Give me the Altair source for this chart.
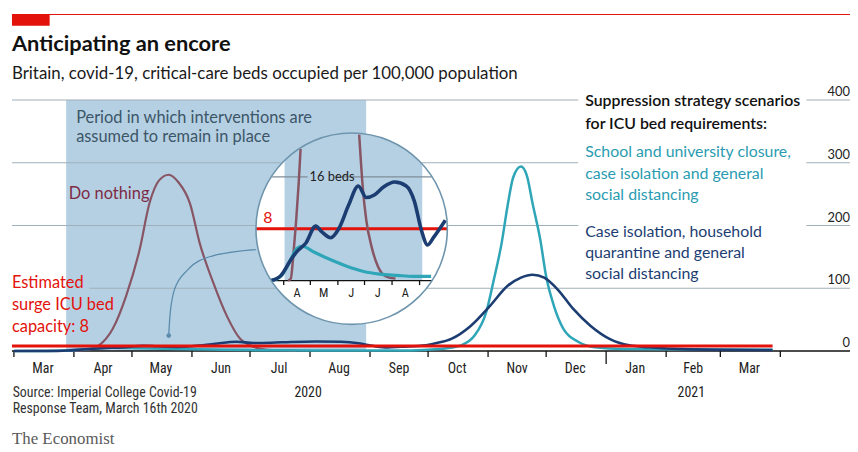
import math
from datetime import datetime, timedelta, timezone

import altair as alt
import pandas as pd

# ------------------------------------------------------------------
# Values (critical-care beds per 100,000)
# ------------------------------------------------------------------
DN_DATES = ["2020-03-01", "2020-04-01", "2020-04-08", "2020-04-14", "2020-04-21",
            "2020-04-28", "2020-05-05", "2020-05-10", "2020-05-15", "2020-05-20",
            "2020-05-25", "2020-05-31", "2020-06-05", "2020-06-12", "2020-06-19",
            "2020-06-26", "2020-07-01", "2020-07-10", "2020-07-25"]
DN_VALUES = [0, 0.5, 2, 9, 35, 88, 162, 235, 272, 281, 269, 235, 172, 109, 56,
             19, 9, 2, 0.5]

NAVY_DATES = ["2020-03-01", "2020-03-18", "2020-03-29", "2020-04-09", "2020-04-16",
              "2020-04-26", "2020-05-07", "2020-05-14", "2020-05-24", "2020-06-02",
              "2020-06-13", "2020-06-24", "2020-07-03", "2020-07-12", "2020-07-22",
              "2020-08-04", "2020-08-17", "2020-08-26", "2020-09-03", "2020-09-10",
              "2020-09-17", "2020-09-30", "2020-10-06", "2020-10-13", "2020-10-23",
              "2020-11-02", "2020-11-11", "2020-11-18", "2020-11-24", "2020-11-30",
              "2020-12-07", "2020-12-15", "2020-12-24", "2021-01-03", "2021-01-13",
              "2021-01-23", "2021-02-10", "2021-03-28"]
NAVY_VALUES = [0, 0, 0.8, 3.2, 4.5, 5.8, 8.4, 7.5, 6.6, 8.0,
               11.6, 14.6, 12.8, 13.2, 14.4, 15.2, 14.6, 12.3, 7.8, 5.5,
               6.7, 9.3, 13, 19.4, 40, 72, 103.6, 117, 121.6, 117,
               98, 67, 40, 19, 9, 6, 3, 1.5]

TEAL_DATES = ["2020-03-01", "2020-03-18", "2020-03-29", "2020-04-07", "2020-04-16",
              "2020-04-22", "2020-05-05", "2020-05-24", "2020-06-11", "2020-06-30",
              "2020-07-18", "2020-08-07", "2020-08-25", "2020-09-14", "2020-10-01",
              "2020-10-10", "2020-10-18", "2020-10-25", "2020-10-31", "2020-11-04",
              "2020-11-08", "2020-11-11", "2020-11-14", "2020-11-18", "2020-11-21",
              "2020-11-24", "2020-11-28", "2020-12-01", "2020-12-05", "2020-12-10",
              "2020-12-18", "2020-12-26", "2021-01-10", "2021-03-28"]
TEAL_VALUES = [0, 0, 0.7, 2.7, 5.0, 5.3, 4.4, 3.2, 2.2, 1.4,
               1.0, 0.8, 0.65, 0.65, 2, 4, 9, 24.6, 61.6, 114,
               172, 230, 277, 294, 280, 235, 177, 119, 72, 35,
               14, 6, 3, 2]

# "Do nothing" as drawn inside the magnifier (two visible pieces)
INSET_DN_RISE_DATES = ["2020-04-06", "2020-04-09", "2020-04-12", "2020-04-15",
                       "2020-04-18", "2020-04-20"]
INSET_DN_RISE_VALUES = [0, 0.3, 4.2, 9.2, 15.3, 20.3]
INSET_DN_FALL_DATES = ["2020-06-25", "2020-06-29", "2020-07-03", "2020-07-09",
                       "2020-07-16", "2020-07-25", "2020-08-05"]
INSET_DN_FALL_VALUES = [22.5, 14.4, 9.3, 5.2, 2.2, 0.65, 0.3]
INSET_WINDOW = ["2020-03-18", "2020-09-30"]

CAPACITY = 8
CAPACITY_SPAN = ["2020-02-29", "2021-03-28"]
PERIOD_MAIN = ["2020-03-28", "2020-08-30"]
PERIOD_INSET = ["2020-04-02", "2020-09-04"]

GRID_VALUES = [100, 200, 300, 400]
GRID_STARTS = ["2020-04-09", "2020-02-29", "2020-02-29", "2020-02-29"]
Y_LABELS = [0, 100, 200, 300, 400]

MONTH_STARTS = ["2020-03-01", "2020-04-01", "2020-05-01", "2020-06-01", "2020-07-01",
                "2020-08-01", "2020-09-01", "2020-10-01", "2020-11-01", "2020-12-01",
                "2021-02-01", "2021-03-01", "2021-04-01"]
YEAR_START = ["2021-01-01"]
MONTH_MIDS = ["2020-03-16", "2020-04-16", "2020-05-16", "2020-06-16", "2020-07-16",
              "2020-08-16", "2020-09-16", "2020-10-16", "2020-11-16", "2020-12-16",
              "2021-01-16", "2021-02-15", "2021-03-16"]
MONTH_NAMES = ["Mar", "Apr", "May", "Jun", "Jul", "Aug", "Sep", "Oct", "Nov", "Dec",
               "Jan", "Feb", "Mar"]
YEAR_DATES = ["2020-07-31", "2021-02-14"]
YEAR_NAMES = ["2020", "2021"]

INSET_TICKS = ["2020-04-01", "2020-05-01", "2020-06-01", "2020-07-01", "2020-08-01",
               "2020-09-01"]
INSET_MIDS = ["2020-04-16", "2020-05-16", "2020-06-16", "2020-07-16", "2020-08-16"]
INSET_NAMES = ["A", "M", "J", "J", "A"]
INSET_CENTER = ("2020-06-16T12:00:00Z", 8)
GRIDLINE_16 = 16

CONNECTOR_DATES = ["2020-05-20T00:00:00Z", "2020-05-20T15:00:00Z", "2020-05-23T00:00:00Z",
                   "2020-05-30T00:00:00Z", "2020-06-11T00:00:00Z", "2020-07-04T00:00:00Z"]
CONNECTOR_VALUES = [24.6, 56, 98.4, 130, 151, 161.6]

# ------------------------------------------------------------------
# Layout and style
# ------------------------------------------------------------------
W, H = 845, 253
PAD = {"left": 4, "top": 91, "right": 0, "bottom": 99}

RED = "#e3120b"
BLUE = "#b5d0e3"
GRID = "#9fb0bb"
GRID_IN = "#7f8e98"
NAVY = "#1c3d72"
TEAL = "#2fa5b8"
DN_LINE = "#875564"
DN_TXT = "#7d2b45"
TEAL_TXT = "#2a9cb1"
PERIOD_TXT = "#3c5668"
OUTLINE = "#6e95ad"
CONNECT = "#5b8cab"
INK = "#111111"

SANS = "Lato, 'Open Sans', sans-serif"
NARROW = "'Liberation Sans Narrow', 'Roboto Condensed', 'DejaVu Sans Condensed', Roboto, sans-serif"
SERIF = "'Liberation Serif', 'DejaVu Serif', serif"

XS = alt.Scale(type="utc",
               domain=[alt.DateTime(year=2020, month=2, date=29, utc=True),
                       alt.DateTime(year=2021, month=5, date=7, utc=True)])
YS = alt.Scale(domain=[0, 400], nice=False, zero=True)

# Magnifier: its own scales, placed by explicit pixel ranges
IX0, IX1 = 274, 411          # Apr 1 .. Sep 1 2020
IY0, IY8 = 182, 129.7        # 0 .. 8 beds
R = 96.5
XI = alt.Scale(type="utc",
               domain=[alt.DateTime(year=2020, month=4, date=1, utc=True),
                       alt.DateTime(year=2020, month=9, date=1, utc=True)],
               range=[IX0, IX1])
YI = alt.Scale(domain=[0, 8], range=[IY0, IY8], nice=False, zero=False)

APR1 = datetime(2020, 4, 1, tzinfo=timezone.utc)
PX_DAY_I = (IX1 - IX0) / 153.0
PX_BED_I = (IY0 - IY8) / 8.0


def to_dt(s):
    if "T" in s:
        return datetime.strptime(s, "%Y-%m-%dT%H:%M:%SZ").replace(tzinfo=timezone.utc)
    return datetime.strptime(s, "%Y-%m-%d").replace(tzinfo=timezone.utc)


def iso(dt):
    return dt.strftime("%Y-%m-%dT%H:%M:%SZ")


def inset_px(s):
    return IX0 + (to_dt(s) - APR1).total_seconds() / 86400.0 * PX_DAY_I


CX = inset_px(INSET_CENTER[0])
CY_BED = INSET_CENTER[1]


def chord(v):
    dy = (CY_BED - v) * PX_BED_I
    half = math.sqrt(R * R - dy * dy) / PX_DAY_I
    c = to_dt(INSET_CENTER[0])
    return iso(c - timedelta(days=half)), iso(c + timedelta(days=half))


# symbol shapes in the unit square (scaled by the symbol size)
SYM = (2 * R) ** 2
CIRCLE_PATH = "M1,0 A1,1 0 1,1 -1,0 A1,1 0 1,1 1,0 Z"
a = (inset_px(PERIOD_INSET[0]) - CX) / R
b = (inset_px(PERIOD_INSET[1]) - CX) / R
yb = (CY_BED - 0) * PX_BED_I / R
ta = -math.sqrt(1 - a * a)
tb = -math.sqrt(1 - b * b)
SEGMENT_PATH = (f"M{a:.4f},{ta:.4f} L{a:.4f},{yb:.4f} L{b:.4f},{yb:.4f} "
                f"L{b:.4f},{tb:.4f} A1,1 0 0,0 {a:.4f},{ta:.4f} Z")


def one():
    return pd.DataFrame({"k": [0]})


def label(text, x, y, size=16.5, color=INK, weight="normal", font=SANS,
          align="left", baseline="alphabetic"):
    return alt.Chart(pd.DataFrame({"t": [text]})).mark_text(
        align=align, baseline=baseline, font=font, fontSize=size,
        fontWeight=weight, color=color
    ).encode(x=alt.value(x), y=alt.value(y), text="t:N")


def series(dates, values):
    return pd.DataFrame({"d": dates, "v": values})


def in_window(dates, values):
    keep = [(d, v) for d, v in zip(dates, values) if INSET_WINDOW[0] <= d <= INSET_WINDOW[1]]
    return series([k[0] for k in keep], [k[1] for k in keep])


def mx(f="d"):
    return alt.X(f"{f}:T", scale=XS, axis=None)


def my(f="v"):
    return alt.Y(f"{f}:Q", scale=YS, axis=None)


def ix(f="d"):
    return alt.X(f"{f}:T", scale=XI, axis=None)


def iy(f="v"):
    return alt.Y(f"{f}:Q", scale=YI, axis=None)


# ------------------------------------------------------------------
# Main chart
# ------------------------------------------------------------------
main = []
main.append(alt.Chart(pd.DataFrame({"s": [PERIOD_MAIN[0]], "e": [PERIOD_MAIN[1]]}))
            .mark_rect(color=BLUE)
            .encode(x=mx("s"), x2="e:T", y=alt.value(0), y2=alt.value(H)))
main.append(alt.Chart(pd.DataFrame({"v": GRID_VALUES, "s": GRID_STARTS}))
            .mark_rule(color=GRID, strokeWidth=1.1)
            .encode(x=mx("s"), x2=alt.value(W), y=my()))
main.append(alt.Chart(pd.DataFrame({"v": Y_LABELS}))
            .mark_text(align="right", baseline="alphabetic", dy=-4, font=SANS,
                       fontSize=13, color="#222")
            .encode(x=alt.value(W), y=my(), text=alt.Text("v:Q", format="d")))
main.append(alt.Chart(pd.DataFrame({"v": [0]}))
            .mark_rule(color=INK, strokeWidth=1.4)
            .encode(x=alt.value(0), x2=alt.value(W), y=my()))
main.append(alt.Chart(pd.DataFrame({"d": MONTH_STARTS}))
            .mark_rule(color=INK, strokeWidth=1.3)
            .encode(x=mx(), y=alt.value(H), y2=alt.value(H + 6)))
main.append(alt.Chart(pd.DataFrame({"d": YEAR_START}))
            .mark_rule(color=INK, strokeWidth=1.3)
            .encode(x=mx(), y=alt.value(H), y2=alt.value(H + 13)))
main.append(alt.Chart(pd.DataFrame({"d": MONTH_MIDS, "m": MONTH_NAMES}))
            .mark_text(baseline="alphabetic", font=NARROW, fontSize=14, color="#222")
            .encode(x=mx(), y=alt.value(H + 22), text="m:N"))
main.append(alt.Chart(pd.DataFrame({"d": YEAR_DATES, "m": YEAR_NAMES}))
            .mark_text(baseline="alphabetic", font=NARROW, fontSize=14, color="#222")
            .encode(x=mx(), y=alt.value(H + 46), text="m:N"))

main.append(alt.Chart(series(DN_DATES, DN_VALUES))
            .mark_line(color=DN_LINE, strokeWidth=2.2, interpolate="monotone")
            .encode(x=mx(), y=my()))
main.append(alt.Chart(series(TEAL_DATES, TEAL_VALUES))
            .mark_line(color=TEAL, strokeWidth=2.5, interpolate="monotone")
            .encode(x=mx(), y=my()))
main.append(alt.Chart(series(NAVY_DATES, NAVY_VALUES))
            .mark_line(color=NAVY, strokeWidth=2.6, interpolate="monotone")
            .encode(x=mx(), y=my()))
main.append(alt.Chart(pd.DataFrame({"s": [CAPACITY_SPAN[0]], "e": [CAPACITY_SPAN[1]],
                                    "v": [CAPACITY]}))
            .mark_rule(color=RED, strokeWidth=3)
            .encode(x=mx("s"), x2="e:T", y=my()))

# connector from the magnifier to the curve
main.append(alt.Chart(series(CONNECTOR_DATES, CONNECTOR_VALUES))
            .mark_line(color=CONNECT, strokeWidth=1.3, interpolate="monotone")
            .encode(x=mx(), y=my()))
main.append(alt.Chart(series(CONNECTOR_DATES[:1], CONNECTOR_VALUES[:1]))
            .mark_circle(color=CONNECT, size=22, opacity=1)
            .encode(x=mx(), y=my()))

# header / footer
main.append(alt.Chart(one()).mark_rule(color=RED, strokeWidth=1.2)
            .encode(x=alt.value(0), x2=alt.value(W), y=alt.value(-86.3)))
main.append(alt.Chart(one()).mark_rect(color=RED)
            .encode(x=alt.value(0), x2=alt.value(38), y=alt.value(-86.8), y2=alt.value(-75)))
main.append(label("Anticipating an encore", 0, -49.7, size=22, weight="bold"))
main.append(label("Britain, covid-19, critical-care beds occupied per 100,000 population",
                  0, -21.7, size=17, color="#1a1a1a"))
main.append(label("Source: Imperial College Covid-19", 0.7, 299.3, size=14, font=NARROW,
                  color="#333"))
main.append(label("Response Team, March 16th 2020", 0.7, 316, size=14, font=NARROW,
                  color="#333"))
main.append(label("The Economist", 0, 347, size=17, font=SERIF, color="#5a5a5a"))

# annotations
main.append(label("Period in which interventions are", 64.7, 22.7, color=PERIOD_TXT))
main.append(label("assumed to remain in place", 64.7, 42.7, color=PERIOD_TXT))
main.append(label("Do nothing", 57.3, 99.3, color=DN_TXT))
for i, t in enumerate(["Estimated", "surge ICU bed", "capacity: 8"]):
    main.append(label(t, 0, 189 + 22.5 * i, color=RED))

main.append(alt.Chart(one()).mark_rect(color="white")
            .encode(x=alt.value(571), x2=alt.value(801), y=alt.value(-10), y2=alt.value(184)))
for i, t in enumerate(["Suppression strategy scenarios", "for ICU bed requirements:"]):
    main.append(label(t, 578, 6 + 23.3 * i, weight=600, size=16))
for i, t in enumerate(["School and university closure,", "case isolation and general",
                       "social distancing"]):
    main.append(label(t, 578, 57.7 + 21.7 * i, color=TEAL_TXT, size=16))
for i, t in enumerate(["Case isolation, household", "quarantine and general",
                       "social distancing"]):
    main.append(label(t, 578, 137.7 + 21.2 * i, color=NAVY, size=16))

main_layer = alt.layer(*main)

# ------------------------------------------------------------------
# Magnifier inset
# ------------------------------------------------------------------
center = pd.DataFrame({"d": [INSET_CENTER[0]], "v": [INSET_CENTER[1]]})
inset = []
inset.append(alt.Chart(center)
             .mark_point(shape=CIRCLE_PATH, size=SYM, filled=True, color="white",
                         opacity=1, strokeWidth=0)
             .encode(x=ix(), y=iy()))
inset.append(alt.Chart(center)
             .mark_point(shape=SEGMENT_PATH, size=SYM, filled=True, color=BLUE,
                         opacity=1, strokeWidth=0)
             .encode(x=ix(), y=iy()))

c16 = chord(GRIDLINE_16)
inset.append(alt.Chart(pd.DataFrame({"s": [c16[0], "2020-05-28T12:00:00Z"],
                                     "e": ["2020-04-28T00:00:00Z", c16[1]],
                                     "v": [GRIDLINE_16, GRIDLINE_16]}))
             .mark_rule(color=GRID_IN, strokeWidth=1.3)
             .encode(x=ix("s"), x2="e:T", y=iy()))
inset.append(alt.Chart(pd.DataFrame({"d": ["2020-04-30"], "v": [GRIDLINE_16], "t": ["16 beds"]}))
             .mark_text(align="left", baseline="middle", font=SANS, fontSize=13, color="#222")
             .encode(x=ix(), y=iy(), text="t:N"))
c8 = chord(CAPACITY)
inset.append(alt.Chart(pd.DataFrame({"s": [c8[0]], "e": [c8[1]], "v": [CAPACITY]}))
             .mark_rule(color=RED, strokeWidth=3)
             .encode(x=ix("s"), x2="e:T", y=iy()))
inset.append(alt.Chart(pd.DataFrame({"d": ["2020-03-14"], "v": [CAPACITY], "t": ["8"]}))
             .mark_text(align="center", baseline="alphabetic", dy=-6, font=SANS,
                        fontSize=16, color=RED)
             .encode(x=ix(), y=iy(), text="t:N"))
c0 = chord(0)
inset.append(alt.Chart(pd.DataFrame({"s": [c0[0]], "e": [c0[1]], "v": [0]}))
             .mark_rule(color=INK, strokeWidth=1.3)
             .encode(x=ix("s"), x2="e:T", y=iy()))
inset.append(alt.Chart(pd.DataFrame({"d": INSET_TICKS}))
             .mark_rule(color=INK, strokeWidth=1.3)
             .encode(x=ix(), y=alt.value(IY0), y2=alt.value(IY0 + 4.5)))
inset.append(alt.Chart(pd.DataFrame({"d": INSET_MIDS, "m": INSET_NAMES}))
             .mark_text(baseline="alphabetic", font=NARROW, fontSize=12.5, color="#222")
             .encode(x=ix(), y=alt.value(IY0 + 16.5), text="m:N"))

inset.append(alt.Chart(series(INSET_DN_RISE_DATES, INSET_DN_RISE_VALUES))
             .mark_line(color=DN_LINE, strokeWidth=2.5, interpolate="monotone")
             .encode(x=ix(), y=iy()))
inset.append(alt.Chart(series(INSET_DN_FALL_DATES, INSET_DN_FALL_VALUES))
             .mark_line(color=DN_LINE, strokeWidth=2.5, interpolate="monotone")
             .encode(x=ix(), y=iy()))
inset.append(alt.Chart(in_window(TEAL_DATES, TEAL_VALUES))
             .mark_line(color=TEAL, strokeWidth=3.2, interpolate="monotone")
             .encode(x=ix(), y=iy()))
inset.append(alt.Chart(in_window(NAVY_DATES, NAVY_VALUES))
             .mark_line(color=NAVY, strokeWidth=3.6, interpolate="monotone")
             .encode(x=ix(), y=iy()))
inset.append(alt.Chart(center)
             .mark_point(shape=CIRCLE_PATH, size=SYM, filled=False, color=OUTLINE,
                         opacity=1, strokeWidth=1.6)
             .encode(x=ix(), y=iy()))

inset_layer = alt.layer(*inset)

chart = (alt.layer(main_layer, inset_layer)
         .resolve_scale(x="independent", y="independent")
         .properties(width=W, height=H, padding=PAD,
                     autosize=alt.AutoSizeParams(type="none"),
                     background="white")
         .configure_view(stroke=None))

chart.save("out.html", embed_options={"renderer": "svg", "actions": False})
